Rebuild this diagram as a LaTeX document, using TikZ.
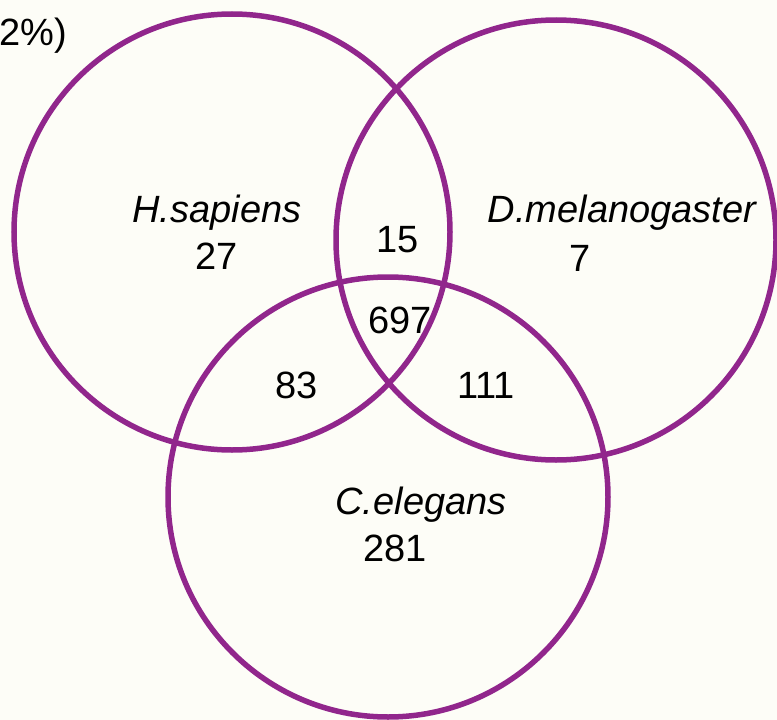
\documentclass[tikz,border=0pt]{standalone}
\usepackage{fontspec}
\setmainfont{Liberation Sans}
\definecolor{vennline}{RGB}{145,38,140}
\definecolor{paper}{RGB}{253,253,247}
\begin{document}
\begin{tikzpicture}[x=1pt,y=-1pt,
  venn/.style={draw=vennline,line width=5.5pt,circle,minimum size=#1,inner sep=0pt},
  lbl/.style={font=\fontsize{38}{45}\selectfont\itshape,inner sep=0pt},
  num/.style={font=\fontsize{38}{45}\selectfont,inner sep=0pt}]
\path[use as bounding box,fill=paper] (0,0) rectangle (777,720);
\begin{scope}
\clip (0,0) rectangle (777,720);
\node[venn=436pt] (hs) at (232,232) {};
\node[venn=440pt] (dm) at (556,240) {};
\node[venn=440pt] (ce) at (388,497) {};
\end{scope}
\node[num,anchor=west] (pct) at (-1,36) {2\%)};
\node[lbl] (hsl) at (217,213) {H.sapiens};
\node[num] (hsn) at (217,256) {27};
\node[lbl] (dml) at (622,213) {D.melanogaster};
\node[num] (dmn) at (580,258) {7};
\node[num] (n15) at (398,240) {15};
\node[num] (n697) at (400,320) {697};
\node[num] (n83) at (297,385) {83};
\node[num] (n111) at (486,385) {111};
\node[lbl] (cel) at (421,505) {C.elegans};
\node[num] (cen) at (395,548) {281};
\end{tikzpicture}
\end{document}
